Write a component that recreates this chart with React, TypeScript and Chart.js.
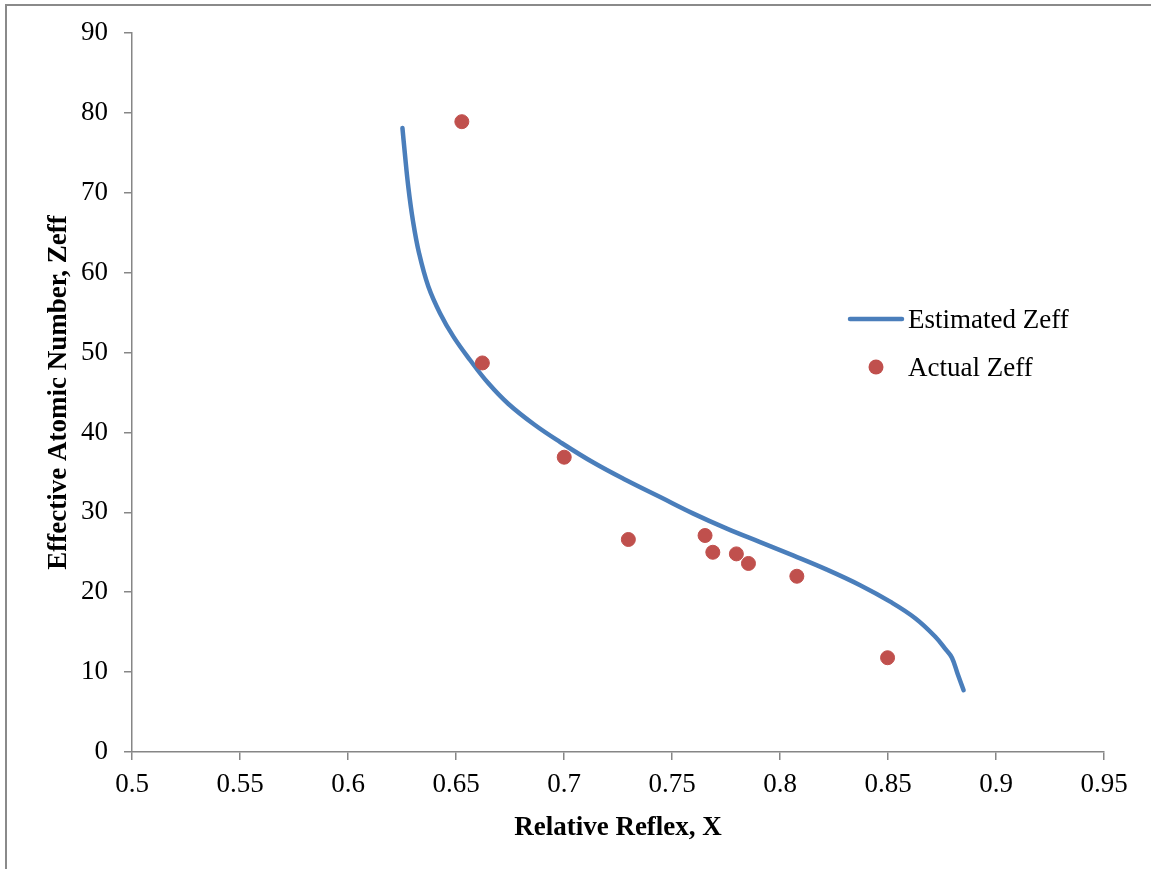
import React, { useEffect, useRef } from "react";
import { Chart, registerables } from "chart.js";

Chart.register(...registerables);

// Estimated Zeff curve (Relative Reflex X, Zeff)
const estimatedX = [
  0.6252, 0.6263, 0.6279, 0.63, 0.6329, 0.6372, 0.6426, 0.6488, 0.6565, 0.665,
  0.6743, 0.6862, 0.6982, 0.7136, 0.7291, 0.7445, 0.7599, 0.7754, 0.7908, 0.8063,
  0.8217, 0.8371, 0.851, 0.8626, 0.8719, 0.877, 0.8796, 0.8823, 0.885,
];
const estimatedZeff = [
  78.1, 74.97, 70.78, 66.61, 62.44, 58.26, 54.92, 51.99, 49.07, 46.15,
  43.56, 40.99, 38.8, 36.23, 33.98, 31.91, 29.84, 27.96, 26.27, 24.58,
  22.83, 20.88, 18.82, 16.75, 14.43, 12.74, 11.8, 9.73, 7.73,
];

// Actual Zeff points
const actualX = [0.6527, 0.6622, 0.7001, 0.7298, 0.7653, 0.7689, 0.7798, 0.7854, 0.8078, 0.8498];
const actualZeff = [78.9, 48.7, 36.9, 26.6, 27.1, 25.0, 24.8, 23.6, 22.0, 11.8];

const xTicks = [0.5, 0.55, 0.6, 0.65, 0.7, 0.75, 0.8, 0.85, 0.9, 0.95];
const xTickLabels = ["0.5", "0.55", "0.6", "0.65", "0.7", "0.75", "0.8", "0.85", "0.9", "0.95"];
const yTicks = [0, 10, 20, 30, 40, 50, 60, 70, 80, 90];
const yTickLabels = ["0", "10", "20", "30", "40", "50", "60", "70", "80", "90"];

const seriesNames = ["Estimated Zeff", "Actual Zeff"];
const xTitle = "Relative Reflex, X";
const yTitle = "Effective Atomic Number, Zeff";

const FONT = "'Liberation Serif', 'Times New Roman', serif";
const AXIS = "#868686";
const BLUE = "#4A7EBB";
const RED = "#C0504D";

const legendPlugin = {
  id: "customLegend",
  afterDraw(chart: any) {
    const ctx = chart.ctx;
    const ds = chart.data.datasets;
    ctx.save();
    ctx.font = `27px ${FONT}`;
    ctx.fillStyle = "#000";
    ctx.textBaseline = "alphabetic";
    ctx.textAlign = "left";
    // line item
    ctx.strokeStyle = ds[0].borderColor;
    ctx.lineWidth = 4.5;
    ctx.lineCap = "round";
    ctx.beginPath();
    ctx.moveTo(850, 319);
    ctx.lineTo(902, 319);
    ctx.stroke();
    ctx.fillText(ds[0].label, 908, 328);
    // point item
    ctx.fillStyle = ds[1].backgroundColor;
    ctx.beginPath();
    ctx.arc(876, 367, 7.5, 0, Math.PI * 2);
    ctx.fill();
    ctx.fillStyle = "#000";
    ctx.fillText(ds[1].label, 908, 376);
    ctx.restore();
  },
};

export default function App() {
  const ref = useRef<HTMLCanvasElement | null>(null);

  useEffect(() => {
    if (!ref.current) return;
    const chart = new Chart(ref.current, {
      type: "scatter",
      data: {
        datasets: [
          {
            label: seriesNames[0],
            data: estimatedX.map((x, i) => ({ x, y: estimatedZeff[i] })),
            showLine: true,
            borderColor: BLUE,
            backgroundColor: BLUE,
            borderWidth: 4.5,
            pointRadius: 0,
            tension: 0.4,
            borderCapStyle: "round",
            borderJoinStyle: "round",
            order: 2,
          },
          {
            label: seriesNames[1],
            data: actualX.map((x, i) => ({ x, y: actualZeff[i] })),
            showLine: false,
            backgroundColor: RED,
            borderColor: RED,
            borderWidth: 1,
            pointRadius: 7,
            order: 1,
          },
        ],
      },
      options: {
        responsive: false,
        animation: false,
        devicePixelRatio: 1,
        layout: { padding: { left: 0, top: 33, right: 47, bottom: 0 } },
        plugins: {
          legend: { display: false },
          tooltip: { enabled: false },
        },
        scales: {
          x: {
            type: "linear",
            min: 0.5,
            max: 0.95,
            afterBuildTicks: (scale: any) => {
              scale.ticks = xTicks.map((v) => ({ value: v }));
            },
            afterFit: (scale: any) => {
              scale.height = 117;
            },
            ticks: {
              autoSkip: false,
              maxRotation: 0,
              padding: 9,
              color: "#000",
              font: { family: FONT, size: 27 },
              callback: (v: any, i: number) => xTickLabels[i],
            },
            grid: {
              drawOnChartArea: false,
              drawTicks: true,
              tickLength: 8,
              color: AXIS,
              lineWidth: 1.5,
            },
            border: { display: true, color: AXIS, width: 1.5 },
            title: {
              display: true,
              text: xTitle,
              color: "#000",
              font: { family: FONT, size: 27, weight: "bold" },
              padding: { top: 0, bottom: 25 },
            },
          },
          y: {
            type: "linear",
            min: 0,
            max: 90,
            afterBuildTicks: (scale: any) => {
              scale.ticks = yTicks.map((v) => ({ value: v }));
            },
            afterFit: (scale: any) => {
              scale.width = 132;
            },
            ticks: {
              autoSkip: false,
              padding: 16,
              color: "#000",
              font: { family: FONT, size: 27 },
              callback: (v: any, i: number) => yTickLabels[i],
            },
            grid: {
              drawOnChartArea: false,
              drawTicks: true,
              tickLength: 8,
              color: AXIS,
              lineWidth: 1.5,
            },
            border: { display: true, color: AXIS, width: 1.5 },
            title: {
              display: true,
              text: yTitle,
              color: "#000",
              font: { family: FONT, size: 27, weight: "bold" },
              padding: { top: 43, bottom: 0 },
            },
          },
        },
      },
      plugins: [legendPlugin],
    } as any);
    return () => chart.destroy();
  }, []);

  return (
    <div style={{ position: "fixed", left: 0, top: 0, width: 1151, height: 869, background: "#fff" }}>
      <div
        style={{
          position: "absolute",
          left: 5,
          top: 4,
          width: 1151,
          height: 869,
          borderLeft: "2px solid #8a8a8a",
          borderTop: "2px solid #8a8a8a",
          boxSizing: "border-box",
        }}
      />
      <canvas
        ref={ref}
        width={1151}
        height={869}
        style={{ position: "absolute", left: 0, top: 0, width: 1151, height: 869 }}
      />
    </div>
  );
}
